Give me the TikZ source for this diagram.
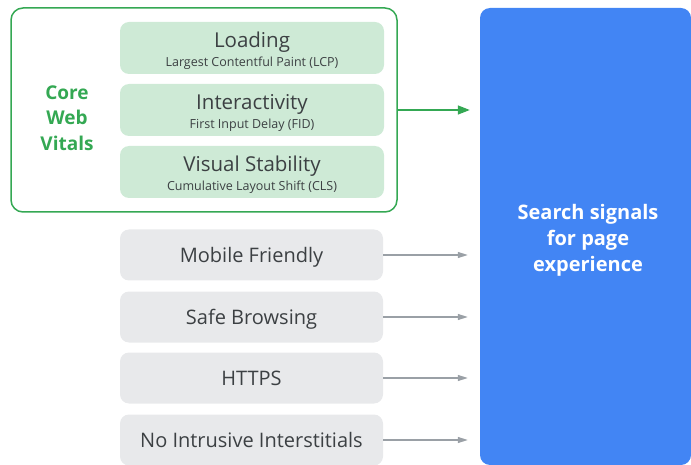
\documentclass[tikz,border=0pt]{standalone}
\usepackage{fontspec}
\setmainfont{Open Sans}
\usepackage{xcolor}
\usetikzlibrary{arrows.meta}
\definecolor{vitalgreen}{HTML}{34A853}
\definecolor{vitalfill}{HTML}{CEEAD6}
\definecolor{signalgray}{HTML}{E8E9EB}
\definecolor{signalblue}{HTML}{4285F4}
\definecolor{textgray}{HTML}{3C4043}
\definecolor{arrowgray}{HTML}{9AA0A6}

\tikzset{
	vitalbox/.style={fill=vitalfill, rounded corners=9pt, minimum width=264pt, minimum height=52pt, inner sep=0pt},
	otherbox/.style={fill=signalgray, rounded corners=9pt, minimum width=263pt, minimum height=51pt, inner sep=0pt,
		text=textgray, font=\fontsize{20}{22}\selectfont, text height=15pt, text depth=0pt},
	greenarrow/.style={draw=vitalgreen, line width=1.5pt, -{Triangle[length=12pt,width=9pt]}, shorten >=10pt},
	grayarrow/.style={draw=arrowgray, line width=1.2pt, -{Triangle[length=10pt,width=6pt]}, shorten >=12pt},
}

\begin{document}
\begin{tikzpicture}[x=1pt,y=-1pt]
		\useasboundingbox (0,0) rectangle (691,465);
		\pgfmathsetmacro{\boxX}{252}
		
		\node[fill=signalblue, rounded corners=10pt, minimum width=211pt, minimum height=457pt, inner sep=0pt] (blue) at (585.5,236.5) {};
		\node[text=white, align=center, font=\bfseries\fontsize{20}{26}\selectfont] (bluelabel) at (588,240) {Search signals\\for page\\experience};
		
		\node[draw=vitalgreen, line width=1.5pt, rounded corners=12pt, minimum width=386pt, minimum height=204pt] (cwv) at (204,110) {};
		\node[text=vitalgreen, align=center, font=\bfseries\fontsize{19}{25.5}\selectfont] (cwvlabel) at (67,118) {Core\\Web\\Vitals};
		
		\foreach \name/\title/\sub/\y in {load/Loading/Largest Contentful Paint (LCP)/48, inter/Interactivity/First Input Delay (FID)/110, visual/Visual Stability/Cumulative Layout Shift (CLS)/172} {
			\node[vitalbox] (\name) at (\boxX,\y) {};
			\node[anchor=base, text=textgray, font=\fontsize{20.5}{22}\selectfont, inner sep=0pt] (\name title) at (\boxX,\y) {\title};
			\node[anchor=base, text=textgray, font=\fontsize{12.5}{14}\selectfont, inner sep=0pt] (\name sub) at (\boxX,\y+18.5) {\sub};
		}
		\draw[greenarrow] (cwv.east) -- (cwv.east -| blue.west);
		
		\foreach \name/\txt/\y in {mobile/Mobile Friendly/255, safe/Safe Browsing/317, https/HTTPS/378, intrusive/No Intrusive Interstitials/440} {
			\node[otherbox] (\name) at (251.5,\y) {\txt};
			\draw[grayarrow] (\name.east) -- (\name.east -| blue.west);
		}
	\end{tikzpicture}
\end{document}
